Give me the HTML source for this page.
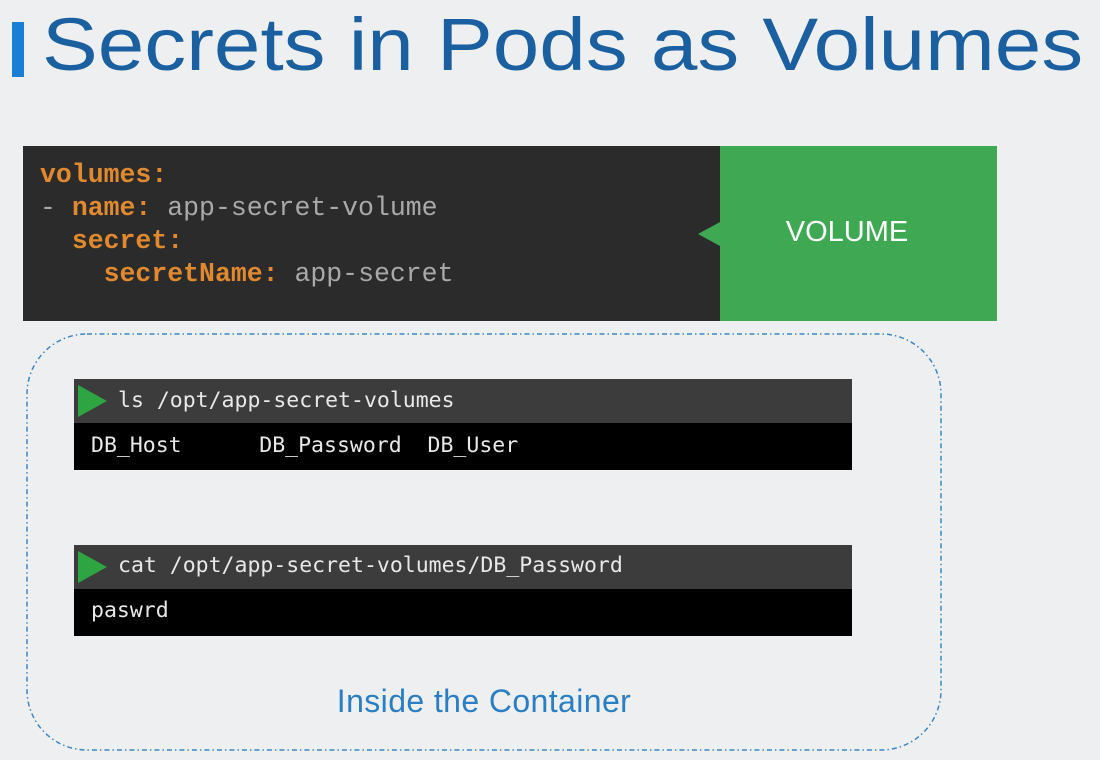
<!DOCTYPE html>
<html><head><style>
body{margin:0;width:1100px;height:760px;background:#eeeff0;position:relative;overflow:hidden;font-family:"Liberation Sans",sans-serif}
.a{position:absolute}
.code{font-family:"Liberation Mono",monospace;font-size:26.5px;color:#a9a9a9;white-space:pre;line-height:33px}
.k{color:#e0892e;font-weight:bold}
.term{font-family:"DejaVu Sans Mono",monospace;font-size:21.5px;color:#e8e8e8;white-space:pre}
</style></head><body>
<div class="a" style="left:12px;top:22px;width:12px;height:55px;background:#1a7fd4"></div>
<div class="a" style="left:42px;top:8px;font-size:74px;line-height:74px;color:#1a5f9f;white-space:nowrap;transform:scaleX(1.13);transform-origin:0 0">Secrets in Pods as Volumes</div>

<div class="a" style="left:23px;top:146px;width:697px;height:175px;background:#2b2b2b"></div>
<div class="a code" style="left:40px;top:159px"><span class="k">volumes:</span>
- <span class="k">name:</span> app-secret-volume
  <span class="k">secret:</span>
    <span class="k">secretName:</span> app-secret</div>
<div class="a" style="left:720px;top:146px;width:277px;height:175px;background:#3fa853"></div>
<div class="a" style="left:698px;top:222px;width:0;height:0;border-top:12px solid transparent;border-bottom:12px solid transparent;border-right:22px solid #3fa853"></div>
<div class="a" style="left:720px;top:216px;width:254px;text-align:center;color:#fff;font-size:29px">VOLUME</div>

<svg class="a" style="left:0;top:0" width="1100" height="760"><rect x="27" y="334" width="914" height="416" rx="60" fill="none" stroke="#3a86c8" stroke-width="1.5" stroke-dasharray="5,3,1.5,3"/></svg>

<div class="a" style="left:74px;top:379px;width:778px;height:44px;background:#3c3c3c"></div>
<div class="a" style="left:74px;top:423px;width:778px;height:47px;background:#000"></div>
<div class="a" style="left:78px;top:385px;border-top:16px solid transparent;border-bottom:16px solid transparent;border-left:29px solid #2fa443"></div>
<div class="a term" style="left:118px;top:388px">ls /opt/app-secret-volumes</div>
<div class="a term" style="left:91px;top:433px">DB_Host      DB_Password  DB_User</div>

<div class="a" style="left:74px;top:545px;width:778px;height:44px;background:#3c3c3c"></div>
<div class="a" style="left:74px;top:589px;width:778px;height:47px;background:#000"></div>
<div class="a" style="left:78px;top:551px;border-top:16px solid transparent;border-bottom:16px solid transparent;border-left:29px solid #2fa443"></div>
<div class="a term" style="left:118px;top:553px">cat /opt/app-secret-volumes/DB_Password</div>
<div class="a term" style="left:91px;top:598px">paswrd</div>

<div class="a" style="left:234px;top:683px;width:500px;text-align:center;color:#2a7fc4;font-size:32px;letter-spacing:0.4px">Inside the Container</div>
</body></html>
